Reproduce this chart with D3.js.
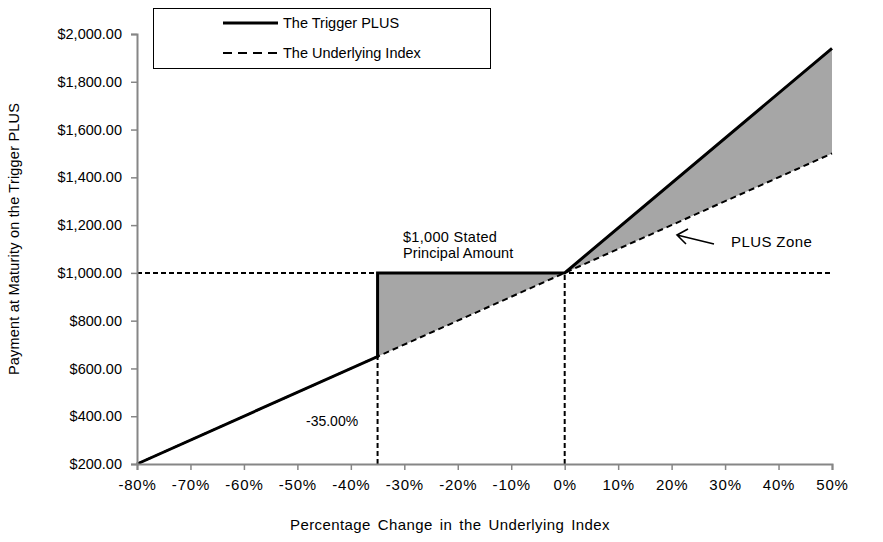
<!doctype html>
<html>
<head>
<meta charset="utf-8">
<script src="https://d3js.org/d3.v7.min.js"></script>
<style>
  body { margin: 0; background: #fff; }
  svg { font-family: Arial, "Liberation Sans", sans-serif; }
</style>
</head>
<body>
<svg id="chart" width="883" height="542"></svg>
<script>
// x values are % change in the underlying, y values are payment in $
var pctTicks = [-80, -70, -60, -50, -40, -30, -20, -10, 0, 10, 20, 30, 40, 50];
var dollarTicks = [200, 400, 600, 800, 1000, 1200, 1400, 1600, 1800, 2000];

var triggerX = [-80, -35, -35, 0, 50];
var triggerY = [200, 650, 1000, 1000, 1940];

var indexX = [-80, -35, 0, 50];
var indexY = [200, 650, 1000, 1500];

var principal = 1000;
var barrier = -35;

var svg = d3.select("#chart");

var xScale = d3.scaleLinear().domain([-80, 50]).range([137, 832]);
var yScale = d3.scaleLinear().domain([200, 2000]).range([464, 34]);

var trigger = triggerX.map((x, i) => ({x: x, y: triggerY[i]}));
var index = indexX.map((x, i) => ({x: x, y: indexY[i]}));

// shaded zone: between trigger payoff and index from barrier to 50%
var upper = trigger.filter((d, i) => i >= 2);
var lower = index.filter(d => d.x >= barrier).reverse();
var zone = upper.concat(lower);

var line = d3.line().x(d => xScale(d.x)).y(d => yScale(d.y));

svg.append("path")
  .attr("d", line(zone) + "Z")
  .attr("fill", "#a6a6a6");

// reference dashed lines
svg.append("line")
  .attr("x1", xScale(-80)).attr("x2", xScale(50))
  .attr("y1", yScale(principal)).attr("y2", yScale(principal))
  .attr("stroke", "#000").attr("stroke-width", 2)
  .attr("stroke-dasharray", "5,3");

svg.append("line")
  .attr("x1", xScale(barrier)).attr("x2", xScale(barrier))
  .attr("y1", yScale(200)).attr("y2", yScale(650))
  .attr("stroke", "#000").attr("stroke-width", 2)
  .attr("stroke-dasharray", "5,3");

svg.append("line")
  .attr("x1", xScale(0)).attr("x2", xScale(0))
  .attr("y1", yScale(200)).attr("y2", yScale(principal))
  .attr("stroke", "#000").attr("stroke-width", 2)
  .attr("stroke-dasharray", "5,3");

// underlying index
svg.append("path")
  .attr("d", line(index))
  .attr("fill", "none")
  .attr("stroke", "#000")
  .attr("stroke-width", 2)
  .attr("stroke-dasharray", "6,4");

// trigger PLUS
svg.append("path")
  .attr("d", line(trigger))
  .attr("fill", "none")
  .attr("stroke", "#000")
  .attr("stroke-width", 3);

// axes
var xAxis = d3.axisBottom(xScale)
  .tickValues(pctTicks)
  .tickSize(6)
  .tickFormat(d => d + "%");
var gx = svg.append("g")
  .attr("transform", "translate(0," + yScale(200) + ")")
  .call(xAxis);

var yAxis = d3.axisLeft(yScale)
  .tickValues(dollarTicks)
  .tickSize(6)
  .tickFormat(d => "$" + d3.format(",.2f")(d));
var gy = svg.append("g")
  .attr("transform", "translate(" + xScale(-80) + ",0)")
  .call(yAxis);

[gx, gy].forEach(g => {
  g.select(".domain").attr("stroke", "#868686").attr("stroke-width", 2);
  g.selectAll(".tick line").attr("stroke", "#868686").attr("stroke-width", 1.5);
  g.selectAll(".tick text")
    .attr("fill", "#000")
    .style("font-size", "14.5px")
    .style("font-family", "Arial, 'Liberation Sans', sans-serif");
});
gx.selectAll(".tick text")
  .attr("dy", "1.12em")
  .style("font-size", "15px")
  .style("letter-spacing", "0.8px");
gy.selectAll(".tick text").attr("x", -15);

// axis titles
svg.append("text")
  .attr("x", 450).attr("y", 530)
  .attr("text-anchor", "middle")
  .style("font-size", "15px")
  .style("letter-spacing", "0.4px")
  .style("word-spacing", "2.5px")
  .text("Percentage Change in the Underlying Index");

svg.append("text")
  .attr("transform", "translate(19,239) rotate(-90)")
  .attr("text-anchor", "middle")
  .style("font-size", "14.5px")
  .style("letter-spacing", "0.2px")
  .text("Payment at Maturity on the Trigger PLUS");

// annotations
svg.append("text").attr("x", 403).attr("y", 242)
  .style("font-size", "14.5px").style("letter-spacing", "0.3px")
  .text("$1,000 Stated");
svg.append("text").attr("x", 403).attr("y", 258)
  .style("font-size", "14.5px").style("letter-spacing", "0.1px")
  .text("Principal Amount");
svg.append("text").attr("x", 306).attr("y", 426)
  .style("font-size", "14px").text("-35.00%");
svg.append("text").attr("x", 731).attr("y", 247)
  .style("font-size", "15px").style("letter-spacing", "0.4px")
  .text("PLUS Zone");

// arrow pointing into the PLUS zone
svg.append("path")
  .attr("d", "M714,244 L677,235 M688,229 L677,235 L686,244")
  .attr("fill", "none")
  .attr("stroke", "#000")
  .attr("stroke-width", 1.6);

// legend
var legend = svg.append("g");
legend.append("rect")
  .attr("x", 153.5).attr("y", 8.5)
  .attr("width", 337).attr("height", 60)
  .attr("fill", "#fff").attr("stroke", "#000").attr("stroke-width", 1);
legend.append("line")
  .attr("x1", 223).attr("x2", 278).attr("y1", 23).attr("y2", 23)
  .attr("stroke", "#000").attr("stroke-width", 3);
legend.append("text").attr("x", 283).attr("y", 28)
  .style("font-size", "14.5px").text("The Trigger PLUS");
legend.append("line")
  .attr("x1", 223).attr("x2", 278).attr("y1", 53).attr("y2", 53)
  .attr("stroke", "#000").attr("stroke-width", 2)
  .attr("stroke-dasharray", "9,6");
legend.append("text").attr("x", 283).attr("y", 58)
  .style("font-size", "14.5px").text("The Underlying Index");
</script>
</body>
</html>
